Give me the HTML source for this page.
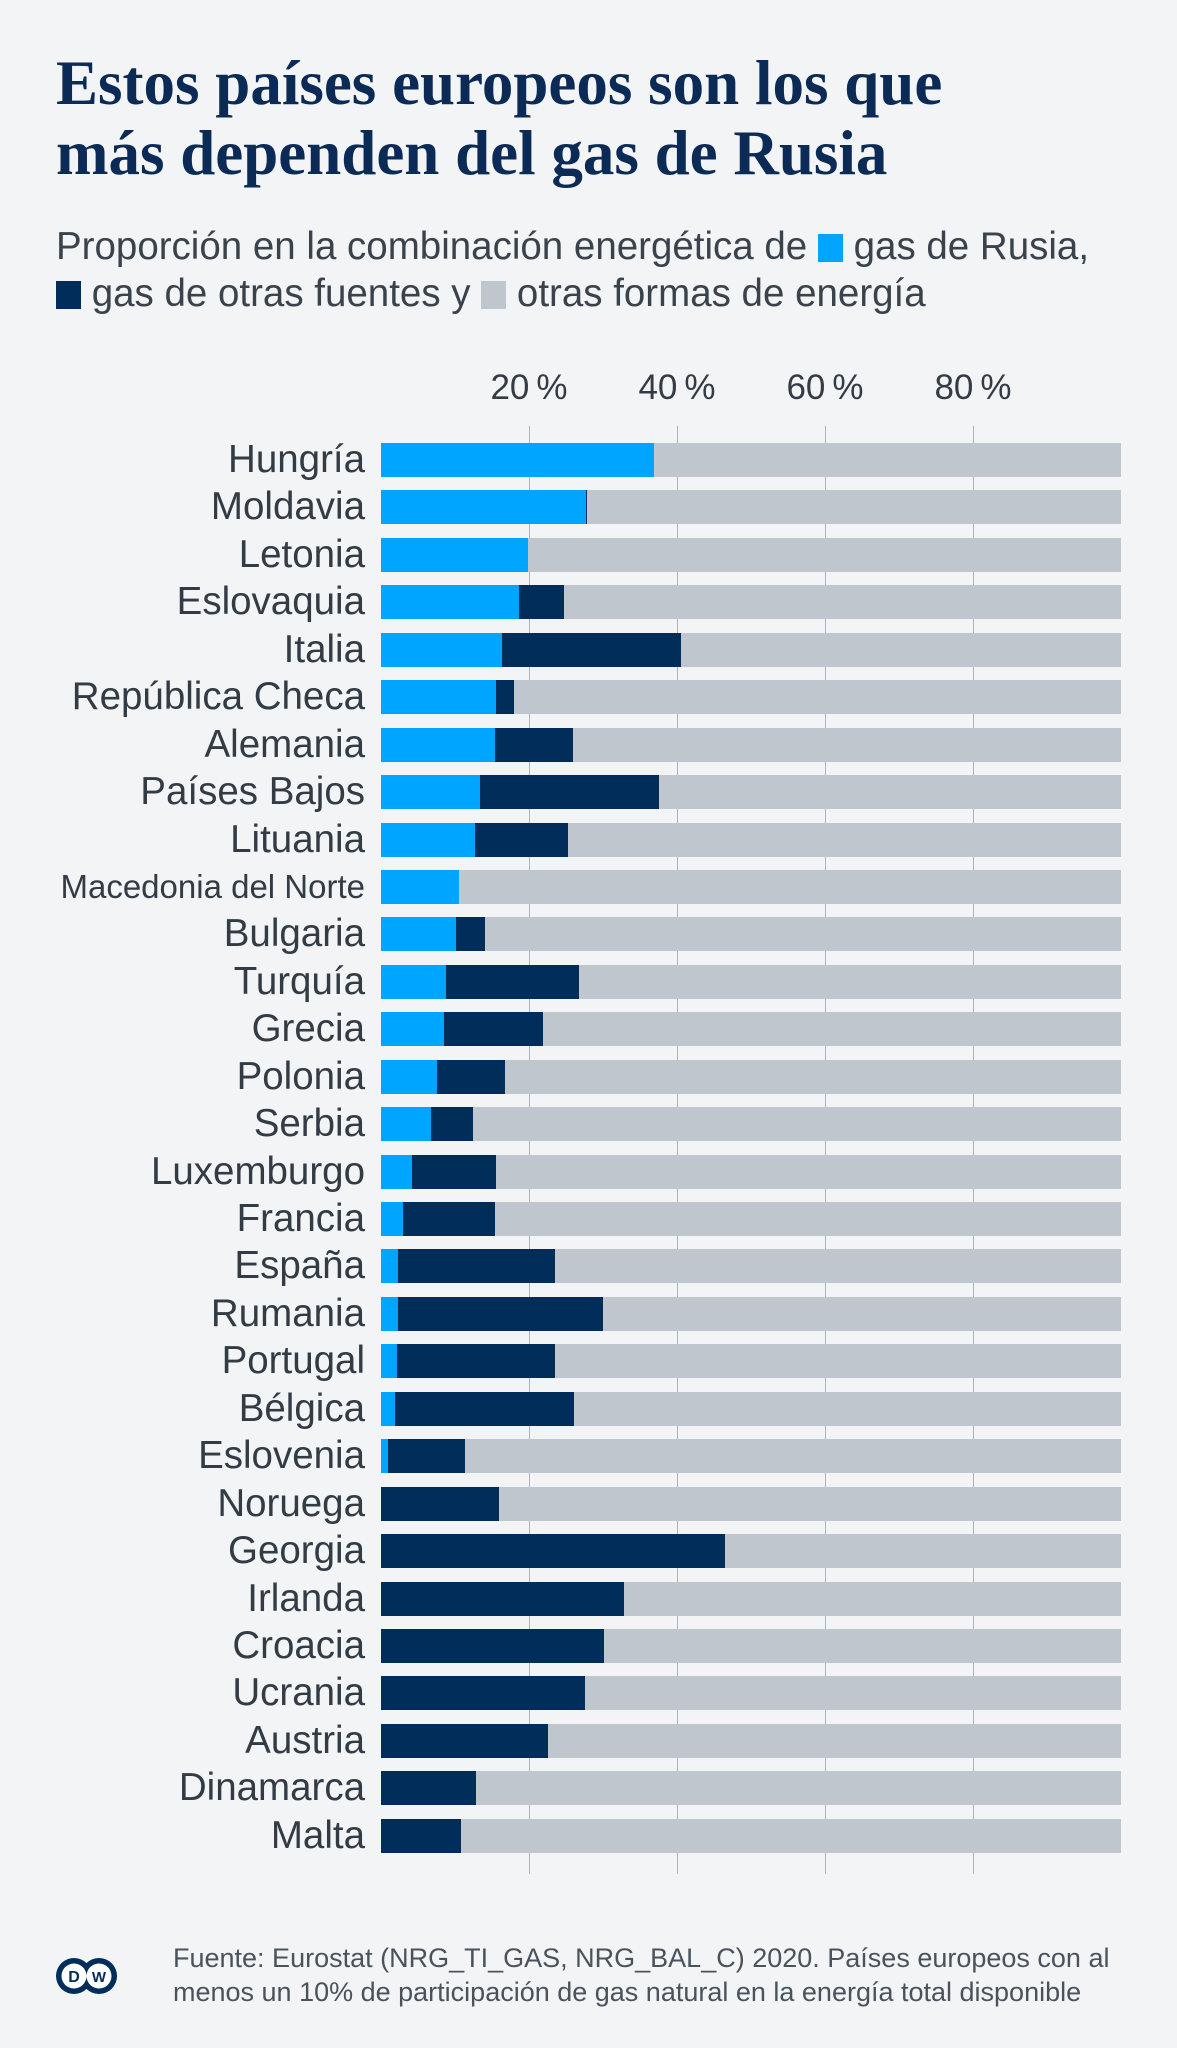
<!DOCTYPE html>
<html><head><meta charset="utf-8">
<style>
body{margin:0;background:#f2f4f6;}
#c{position:relative;width:1177px;height:2048px;overflow:hidden;background:#f2f4f6;font-family:"Liberation Sans",sans-serif;color:#333b45;}
.t{position:absolute;left:56px;font-family:"Liberation Serif",serif;font-weight:bold;font-size:63px;color:#0b2a55;white-space:nowrap;line-height:1;}
.s{position:absolute;left:56px;font-size:38.5px;white-space:nowrap;line-height:1;color:#3a424c;}
.sq{display:inline-block;width:25px;height:28px;vertical-align:-3px;}
.tk{position:absolute;top:370px;font-size:35px;width:140px;margin-left:-70px;text-align:center;line-height:1;}
.g{position:absolute;top:426px;height:1448px;width:1px;background:#aab2bc;}
#rows{position:absolute;left:0;top:443px;width:1177px;}
.r{position:relative;height:47.45px;}
.l{position:absolute;right:812px;top:0;height:34px;line-height:34px;font-size:38.5px;white-space:nowrap;}
.b{position:absolute;left:381px;top:0;width:740px;height:34px;background:#bfc6ce;}
.b i{position:absolute;top:0;height:34px;left:0;}
.ru{background:#00a5ff;}
.ot{background:#002d5a;}
</style></head><body><div id="c">
<div class="t" style="top:52px">Estos países europeos son los que</div>
<div class="t" style="top:122px">más dependen del gas de Rusia</div>
<div class="s" style="top:228px">Proporción en la combinación energética de <span class="sq" style="background:#00a5ff"></span> gas de Rusia,</div>
<div class="s" style="top:275px"><span class="sq" style="background:#002d5a"></span> gas de otras fuentes y <span class="sq" style="background:#bfc6ce"></span> otras formas de energía</div>
<div class="tk" style="left:529px">20&#8201;%</div>
<div class="tk" style="left:677px">40&#8201;%</div>
<div class="tk" style="left:825px">60&#8201;%</div>
<div class="tk" style="left:973px">80&#8201;%</div>
<div class="g" style="left:529px"></div>
<div class="g" style="left:677px"></div>
<div class="g" style="left:825px"></div>
<div class="g" style="left:973px"></div>
<div id="rows">
<div class="r"><div class="l">Hungría</div><div class="b"><i class="ru" style="width:36.9%"></i></div></div>
<div class="r"><div class="l">Moldavia</div><div class="b"><i class="ot" style="width:27.9%"></i><i class="ru" style="width:27.7%"></i></div></div>
<div class="r"><div class="l">Letonia</div><div class="b"><i class="ru" style="width:19.8%"></i></div></div>
<div class="r"><div class="l">Eslovaquia</div><div class="b"><i class="ot" style="width:24.7%"></i><i class="ru" style="width:18.6%"></i></div></div>
<div class="r"><div class="l">Italia</div><div class="b"><i class="ot" style="width:40.5%"></i><i class="ru" style="width:16.3%"></i></div></div>
<div class="r"><div class="l">República Checa</div><div class="b"><i class="ot" style="width:18.0%"></i><i class="ru" style="width:15.5%"></i></div></div>
<div class="r"><div class="l">Alemania</div><div class="b"><i class="ot" style="width:26.0%"></i><i class="ru" style="width:15.4%"></i></div></div>
<div class="r"><div class="l">Países Bajos</div><div class="b"><i class="ot" style="width:37.6%"></i><i class="ru" style="width:13.4%"></i></div></div>
<div class="r"><div class="l">Lituania</div><div class="b"><i class="ot" style="width:25.3%"></i><i class="ru" style="width:12.7%"></i></div></div>
<div class="r"><div class="l" style="font-size:33px">Macedonia del Norte</div><div class="b"><i class="ru" style="width:10.6%"></i></div></div>
<div class="r"><div class="l">Bulgaria</div><div class="b"><i class="ot" style="width:14.0%"></i><i class="ru" style="width:10.1%"></i></div></div>
<div class="r"><div class="l">Turquía</div><div class="b"><i class="ot" style="width:26.7%"></i><i class="ru" style="width:8.8%"></i></div></div>
<div class="r"><div class="l">Grecia</div><div class="b"><i class="ot" style="width:21.9%"></i><i class="ru" style="width:8.5%"></i></div></div>
<div class="r"><div class="l">Polonia</div><div class="b"><i class="ot" style="width:16.8%"></i><i class="ru" style="width:7.6%"></i></div></div>
<div class="r"><div class="l">Serbia</div><div class="b"><i class="ot" style="width:12.4%"></i><i class="ru" style="width:6.7%"></i></div></div>
<div class="r"><div class="l">Luxemburgo</div><div class="b"><i class="ot" style="width:15.5%"></i><i class="ru" style="width:4.2%"></i></div></div>
<div class="r"><div class="l">Francia</div><div class="b"><i class="ot" style="width:15.4%"></i><i class="ru" style="width:3.0%"></i></div></div>
<div class="r"><div class="l">España</div><div class="b"><i class="ot" style="width:23.5%"></i><i class="ru" style="width:2.3%"></i></div></div>
<div class="r"><div class="l">Rumania</div><div class="b"><i class="ot" style="width:30.0%"></i><i class="ru" style="width:2.3%"></i></div></div>
<div class="r"><div class="l">Portugal</div><div class="b"><i class="ot" style="width:23.5%"></i><i class="ru" style="width:2.1%"></i></div></div>
<div class="r"><div class="l">Bélgica</div><div class="b"><i class="ot" style="width:26.1%"></i><i class="ru" style="width:1.9%"></i></div></div>
<div class="r"><div class="l">Eslovenia</div><div class="b"><i class="ot" style="width:11.3%"></i><i class="ru" style="width:0.9%"></i></div></div>
<div class="r"><div class="l">Noruega</div><div class="b"><i class="ot" style="width:15.9%"></i></div></div>
<div class="r"><div class="l">Georgia</div><div class="b"><i class="ot" style="width:46.5%"></i></div></div>
<div class="r"><div class="l">Irlanda</div><div class="b"><i class="ot" style="width:32.9%"></i></div></div>
<div class="r"><div class="l">Croacia</div><div class="b"><i class="ot" style="width:30.2%"></i></div></div>
<div class="r"><div class="l">Ucrania</div><div class="b"><i class="ot" style="width:27.6%"></i></div></div>
<div class="r"><div class="l">Austria</div><div class="b"><i class="ot" style="width:22.6%"></i></div></div>
<div class="r"><div class="l">Dinamarca</div><div class="b"><i class="ot" style="width:12.8%"></i></div></div>
<div class="r"><div class="l">Malta</div><div class="b"><i class="ot" style="width:10.8%"></i></div></div>
</div>
<svg style="position:absolute;left:54px;top:1956px" width="66" height="40">
<circle cx="20" cy="20" r="18" fill="#002d5a"/><circle cx="45" cy="20" r="18" fill="#002d5a"/>
<circle cx="20" cy="20" r="12.5" fill="#fff"/><circle cx="45" cy="20" r="12.5" fill="#fff"/>
<text x="20" y="26" font-family="Liberation Sans" font-weight="bold" font-size="16" text-anchor="middle" fill="#002d5a">D</text>
<text x="45" y="26" font-family="Liberation Sans" font-weight="bold" font-size="15" text-anchor="middle" fill="#002d5a">W</text>
</svg>
<div style="position:absolute;left:173px;top:1941px;font-size:27px;line-height:34px;color:#4a525c;white-space:nowrap">Fuente: Eurostat (NRG_TI_GAS, NRG_BAL_C) 2020. Países europeos con al<br>menos un 10% de participación de gas natural en la energía total disponible</div>
</div></body></html>
